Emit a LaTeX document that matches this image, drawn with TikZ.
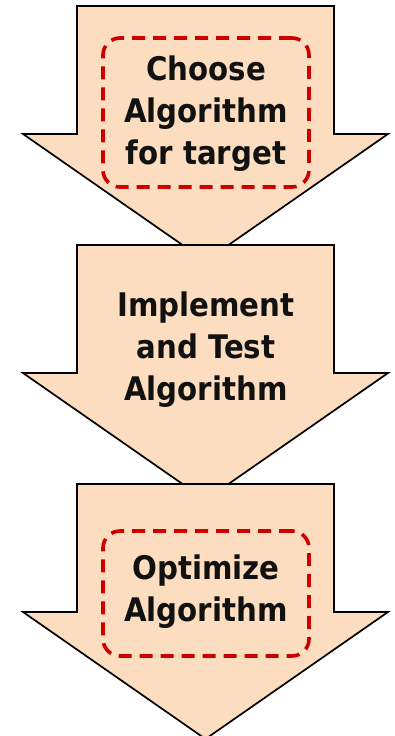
\documentclass[tikz,border=0pt]{standalone}
\usepackage{fontspec}
\newfontfamily\lblfont{DejaVu Sans Condensed}[BoldFont={DejaVu Sans Condensed Bold}]
\definecolor{peach}{HTML}{FCDDBF}
\definecolor{dashred}{HTML}{CC0000}
\definecolor{txt}{HTML}{111111}
\tikzset{
  bigarrow/.style={draw=black, line width=1.7pt, fill=peach, line join=miter},
  dashbox/.style={draw=dashred, line width=3.6pt, dash pattern=on 13pt off 8pt, rounded corners=17pt, minimum width=206pt, inner sep=0pt},
  lbl/.style={font=\lblfont\bfseries\fontsize{32.5}{42}\selectfont, text=txt, align=center, inner sep=0pt}
}
\begin{document}
\begin{tikzpicture}[x=1pt,y=-1pt]
\useasboundingbox (0,0) rectangle (395,736);
\foreach \t/\n in {6/a1,245/a2,484/a3}{
  \draw[bigarrow] (77,\t) -- (334,\t) -- (334,\t+128) -- (388,\t+128) -- (205.5,\t+255) -- (23,\t+128) -- (77,\t+128) -- cycle;
}
\node[dashbox, minimum height=149pt] (b1) at (206,112.5) {};
\node[lbl] (t1) at (206,114) {Choose\\Algorithm\\for target};
\node[lbl] (t2) at (206,350) {Implement\\and Test\\Algorithm};
\node[dashbox, minimum height=125pt] (b3) at (206,593.5) {};
\node[lbl] (t3) at (206,592) {Optimize\\Algorithm};
\end{tikzpicture}
\end{document}
